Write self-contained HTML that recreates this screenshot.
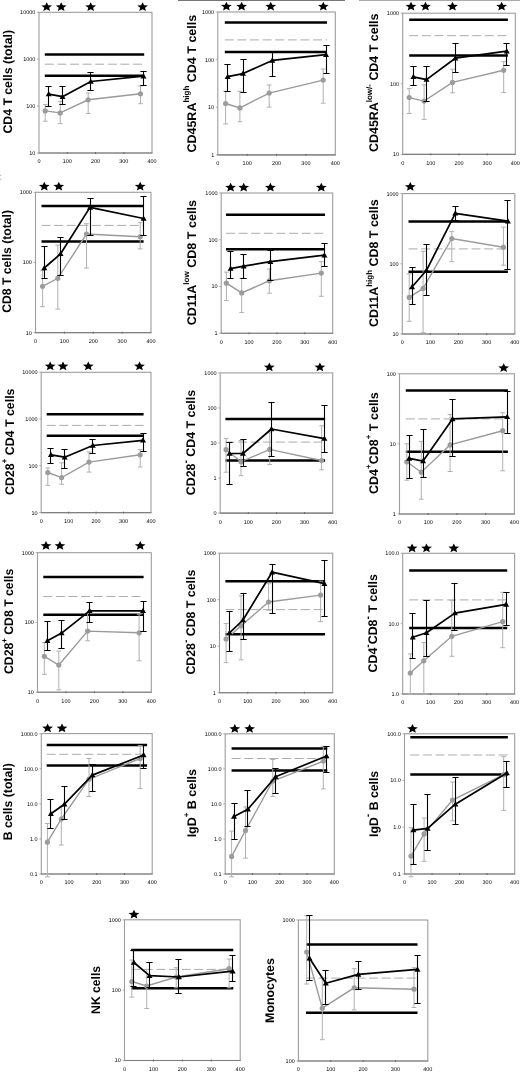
<!DOCTYPE html>
<html><head><meta charset="utf-8"><title>Figure</title>
<style>
html,body{margin:0;padding:0;background:#fff;}
body{width:520px;height:1073px;overflow:hidden;}
svg{display:block;will-change:transform;text-rendering:geometricPrecision;}
.yl{font-family:"Liberation Sans",sans-serif;font-size:5.5px;fill:#000;text-anchor:end;font-weight:normal;}
.xl{font-family:"Liberation Sans",sans-serif;font-size:5.5px;fill:#000;text-anchor:middle;font-weight:normal;}
.tt{font-family:"Liberation Sans",sans-serif;font-weight:bold;fill:#000;text-anchor:start;}
</style></head>
<body>
<svg width="520" height="1073" viewBox="0 0 520 1073">
<line x1="178" y1="0.5" x2="345" y2="0.5" stroke="#777" stroke-width="1.2"/>
<line x1="359" y1="0.5" x2="520" y2="0.5" stroke="#aaa" stroke-width="1.2"/>
<rect x="0" y="174.6" width="1.4" height="1.4" fill="#c4c4c4"/><rect x="0" y="178.6" width="1.4" height="1.4" fill="#c4c4c4"/>
<rect x="39" y="12.3" width="113" height="140.7" fill="none" stroke="#9d9d9d" stroke-width="1.1"/>
<line x1="38.5" y1="153" x2="152.5" y2="153" stroke="#808080" stroke-width="1.1"/>
<line x1="37" y1="12.3" x2="39" y2="12.3" stroke="#9d9d9d" stroke-width="0.8"/>
<text x="35.4" y="14.2" class="yl">10000</text>
<line x1="37" y1="59.2" x2="39" y2="59.2" stroke="#9d9d9d" stroke-width="0.8"/>
<text x="35.4" y="61.1" class="yl">1000</text>
<line x1="37" y1="106.1" x2="39" y2="106.1" stroke="#9d9d9d" stroke-width="0.8"/>
<text x="35.4" y="108" class="yl">100</text>
<line x1="37" y1="153" x2="39" y2="153" stroke="#9d9d9d" stroke-width="0.8"/>
<text x="35.4" y="154.9" class="yl">10</text>
<text x="39" y="163.4" class="xl">0</text>
<text x="67.25" y="163.4" class="xl">100</text>
<line x1="67.25" y1="152" x2="67.25" y2="154" stroke="#666" stroke-width="0.9"/>
<text x="95.5" y="163.4" class="xl">200</text>
<line x1="95.5" y1="152" x2="95.5" y2="154" stroke="#666" stroke-width="0.9"/>
<text x="123.75" y="163.4" class="xl">300</text>
<line x1="123.75" y1="152" x2="123.75" y2="154" stroke="#666" stroke-width="0.9"/>
<text x="152" y="163.4" class="xl">400</text>
<text transform="translate(11.5,133.52) rotate(-90) scale(0.9802,1)" class="tt" font-size="12.5">CD4&#160;T&#160;cells&#160;(total)</text>
<polygon points="46.7,2.24 48.21,5.32 52.09,5.6 49.15,7.78 50.03,11.03 46.7,9.3 43.37,11.03 44.25,7.78 41.31,5.6 45.19,5.32" fill="#000"/>
<polygon points="61.2,2.24 62.71,5.32 66.59,5.6 63.65,7.78 64.53,11.03 61.2,9.3 57.87,11.03 58.75,7.78 55.81,5.6 59.69,5.32" fill="#000"/>
<polygon points="90.7,2.24 92.21,5.32 96.09,5.6 93.15,7.78 94.03,11.03 90.7,9.3 87.37,11.03 88.25,7.78 85.31,5.6 89.19,5.32" fill="#000"/>
<polygon points="142.6,2.24 144.11,5.32 147.99,5.6 145.05,7.78 145.93,11.03 142.6,9.3 139.27,11.03 140.15,7.78 137.21,5.6 141.09,5.32" fill="#000"/>
<line x1="44.8" y1="54.6" x2="144.2" y2="54.6" stroke="#000" stroke-width="2.5"/>
<line x1="44.8" y1="75.7" x2="144.2" y2="75.7" stroke="#000" stroke-width="2.5"/>
<line x1="44.8" y1="64.2" x2="144.2" y2="64.2" stroke="#acacac" stroke-width="1.0" stroke-dasharray="9,3.6"/>
<path d="M45.2 104.6V121.2M42.8 104.6H47.6M42.8 121.2H47.6M60.2 101.3V123.6M57.8 101.3H62.6M57.8 123.6H62.6M88.2 93V113.5M85.8 93H90.6M85.8 113.5H90.6M140.5 86V103.7M138.1 86H142.9M138.1 103.7H142.9" stroke="#b0b0b0" stroke-width="1.0" fill="none"/>
<polyline points="45.2,110.9 60.2,112.9 88.2,99.8 140.5,93.8" stroke="#9a9a9a" stroke-width="1.4" fill="none"/>
<circle cx="45.2" cy="110.9" r="2.6" fill="#9c9c9c"/>
<circle cx="60.2" cy="112.9" r="2.6" fill="#9c9c9c"/>
<circle cx="88.2" cy="99.8" r="2.6" fill="#9c9c9c"/>
<circle cx="140.5" cy="93.8" r="2.6" fill="#9c9c9c"/>
<path d="M48.5 86.5V106.5M45.4 86.5H51.6M45.4 106.5H51.6M62.5 86.5V104.5M59.4 86.5H65.6M59.4 104.5H65.6M90.5 72.5V90.5M87.4 72.5H93.6M87.4 90.5H93.6M143.5 71.5V85.5M140.4 71.5H146.6M140.4 85.5H146.6" stroke="#000" stroke-width="1.1" fill="none"/>
<polyline points="48.7,94.1 62.5,96.7 90.8,81.5 143.5,76.2" stroke="#000" stroke-width="1.7" fill="none" stroke-linejoin="round"/>
<polygon points="48.7,91.03 45.7,96.33 51.7,96.33" fill="#000"/>
<polygon points="62.5,93.63 59.5,98.93 65.5,98.93" fill="#000"/>
<polygon points="90.8,78.43 87.8,83.73 93.8,83.73" fill="#000"/>
<polygon points="143.5,73.13 140.5,78.43 146.5,78.43" fill="#000"/>
<rect x="217.8" y="12" width="117.5" height="142.9" fill="none" stroke="#9d9d9d" stroke-width="1.1"/>
<line x1="217.3" y1="154.9" x2="335.8" y2="154.9" stroke="#808080" stroke-width="1.1"/>
<line x1="215.8" y1="12" x2="217.8" y2="12" stroke="#9d9d9d" stroke-width="0.8"/>
<text x="214.2" y="13.9" class="yl">1000</text>
<line x1="215.8" y1="59.63" x2="217.8" y2="59.63" stroke="#9d9d9d" stroke-width="0.8"/>
<text x="214.2" y="61.53" class="yl">100</text>
<line x1="215.8" y1="107.27" x2="217.8" y2="107.27" stroke="#9d9d9d" stroke-width="0.8"/>
<text x="214.2" y="109.17" class="yl">10</text>
<line x1="215.8" y1="154.9" x2="217.8" y2="154.9" stroke="#9d9d9d" stroke-width="0.8"/>
<text x="214.2" y="156.8" class="yl">1</text>
<text x="217.8" y="165.3" class="xl">0</text>
<text x="247.18" y="165.3" class="xl">100</text>
<line x1="247.18" y1="153.9" x2="247.18" y2="155.9" stroke="#666" stroke-width="0.9"/>
<text x="276.55" y="165.3" class="xl">200</text>
<line x1="276.55" y1="153.9" x2="276.55" y2="155.9" stroke="#666" stroke-width="0.9"/>
<text x="305.93" y="165.3" class="xl">300</text>
<line x1="305.93" y1="153.9" x2="305.93" y2="155.9" stroke="#666" stroke-width="0.9"/>
<text x="335.3" y="165.3" class="xl">400</text>
<text transform="translate(195.9,152.6) rotate(-90) scale(1.0001,1)" class="tt" font-size="12.5">CD45RA<tspan dy="-6.5" font-size="8">high</tspan><tspan dy="6.5">&#160;CD4&#160;T&#160;cells</tspan></text>
<polygon points="226.4,1.64 227.91,4.72 231.79,5 228.85,7.18 229.73,10.43 226.4,8.71 223.07,10.43 223.95,7.18 221.01,5 224.89,4.72" fill="#000"/>
<polygon points="241.6,1.64 243.11,4.72 246.99,5 244.05,7.18 244.93,10.43 241.6,8.71 238.27,10.43 239.15,7.18 236.21,5 240.09,4.72" fill="#000"/>
<polygon points="270.7,1.64 272.21,4.72 276.09,5 273.15,7.18 274.03,10.43 270.7,8.71 267.37,10.43 268.25,7.18 265.31,5 269.19,4.72" fill="#000"/>
<polygon points="323.3,1.64 324.81,4.72 328.69,5 325.75,7.18 326.63,10.43 323.3,8.71 319.97,10.43 320.85,7.18 317.91,5 321.79,4.72" fill="#000"/>
<line x1="224.8" y1="22.5" x2="327" y2="22.5" stroke="#000" stroke-width="2.5"/>
<line x1="224.8" y1="52.1" x2="327" y2="52.1" stroke="#000" stroke-width="2.5"/>
<line x1="224.8" y1="39.9" x2="327" y2="39.9" stroke="#acacac" stroke-width="1.0" stroke-dasharray="9,3.6"/>
<path d="M225.6 91.3V123.9M223.2 91.3H228M223.2 123.9H228M239.9 91.3V121.8M237.5 91.3H242.3M237.5 121.8H242.3M269.2 85V107.1M266.8 85H271.6M266.8 107.1H271.6M323.2 69V103.2M320.8 69H325.6M320.8 103.2H325.6" stroke="#b0b0b0" stroke-width="1.0" fill="none"/>
<polyline points="225.6,103.5 239.9,107.9 269.2,93.1 323.2,80.1" stroke="#9a9a9a" stroke-width="1.4" fill="none"/>
<circle cx="225.6" cy="103.5" r="2.6" fill="#9c9c9c"/>
<circle cx="239.9" cy="107.9" r="2.6" fill="#9c9c9c"/>
<circle cx="269.2" cy="93.1" r="2.6" fill="#9c9c9c"/>
<circle cx="323.2" cy="80.1" r="2.6" fill="#9c9c9c"/>
<path d="M227.5 64.5V91.5M224.4 64.5H230.6M224.4 91.5H230.6M243.5 59.5V92.5M240.4 59.5H246.6M240.4 92.5H246.6M272.5 51.5V76.5M269.4 51.5H275.6M269.4 76.5H275.6M326.5 45.5V73.5M323.4 45.5H329.6M323.4 73.5H329.6" stroke="#000" stroke-width="1.1" fill="none"/>
<polyline points="227.7,76.7 243,73.6 272.3,60.4 326,54.7" stroke="#000" stroke-width="1.7" fill="none" stroke-linejoin="round"/>
<polygon points="227.7,73.63 224.7,78.93 230.7,78.93" fill="#000"/>
<polygon points="243,70.53 240,75.83 246,75.83" fill="#000"/>
<polygon points="272.3,57.33 269.3,62.63 275.3,62.63" fill="#000"/>
<polygon points="326,51.63 323,56.93 329,56.93" fill="#000"/>
<rect x="402.7" y="13.2" width="112.6" height="141.2" fill="none" stroke="#9d9d9d" stroke-width="1.1"/>
<line x1="402.2" y1="154.4" x2="515.8" y2="154.4" stroke="#808080" stroke-width="1.1"/>
<line x1="400.7" y1="13.2" x2="402.7" y2="13.2" stroke="#9d9d9d" stroke-width="0.8"/>
<text x="399.1" y="15.1" class="yl">1000</text>
<line x1="400.7" y1="83.8" x2="402.7" y2="83.8" stroke="#9d9d9d" stroke-width="0.8"/>
<text x="399.1" y="85.7" class="yl">100</text>
<line x1="400.7" y1="154.4" x2="402.7" y2="154.4" stroke="#9d9d9d" stroke-width="0.8"/>
<text x="399.1" y="156.3" class="yl">10</text>
<text x="402.7" y="164.8" class="xl">0</text>
<text x="430.85" y="164.8" class="xl">100</text>
<line x1="430.85" y1="153.4" x2="430.85" y2="155.4" stroke="#666" stroke-width="0.9"/>
<text x="459" y="164.8" class="xl">200</text>
<line x1="459" y1="153.4" x2="459" y2="155.4" stroke="#666" stroke-width="0.9"/>
<text x="487.15" y="164.8" class="xl">300</text>
<line x1="487.15" y1="153.4" x2="487.15" y2="155.4" stroke="#666" stroke-width="0.9"/>
<text x="515.3" y="164.8" class="xl">400</text>
<text transform="translate(378.4,152.01) rotate(-90) scale(0.9956,1)" class="tt" font-size="12.5">CD45RA<tspan dy="-6.5" font-size="8">low/-</tspan><tspan dy="6.5">&#160;CD4&#160;T&#160;cells</tspan></text>
<polygon points="411,1.64 412.51,4.72 416.39,5 413.45,7.18 414.33,10.43 411,8.71 407.67,10.43 408.55,7.18 405.61,5 409.49,4.72" fill="#000"/>
<polygon points="425.5,1.64 427.01,4.72 430.89,5 427.95,7.18 428.83,10.43 425.5,8.71 422.17,10.43 423.05,7.18 420.11,5 423.99,4.72" fill="#000"/>
<polygon points="452.5,1.64 454.01,4.72 457.89,5 454.95,7.18 455.83,10.43 452.5,8.71 449.17,10.43 450.05,7.18 447.11,5 450.99,4.72" fill="#000"/>
<polygon points="501.6,1.64 503.11,4.72 506.99,5 504.05,7.18 504.93,10.43 501.6,8.71 498.27,10.43 499.15,7.18 496.21,5 500.09,4.72" fill="#000"/>
<line x1="409.2" y1="19.7" x2="507.9" y2="19.7" stroke="#000" stroke-width="2.5"/>
<line x1="409.2" y1="55.4" x2="507.9" y2="55.4" stroke="#000" stroke-width="2.5"/>
<line x1="409.2" y1="35.7" x2="507.9" y2="35.7" stroke="#acacac" stroke-width="1.0" stroke-dasharray="9,3.6"/>
<path d="M409.2 88.6V113.5M406.8 88.6H411.6M406.8 113.5H411.6M424.1 84.8V119.4M421.7 84.8H426.5M421.7 119.4H426.5M452.5 69.2V92.8M450.1 69.2H454.9M450.1 92.8H454.9M503.7 61.6V92.4M501.3 61.6H506.1M501.3 92.4H506.1" stroke="#b0b0b0" stroke-width="1.0" fill="none"/>
<polyline points="409.2,97.6 424.1,101.1 452.5,82.4 503.7,70.3" stroke="#9a9a9a" stroke-width="1.4" fill="none"/>
<circle cx="409.2" cy="97.6" r="2.6" fill="#9c9c9c"/>
<circle cx="424.1" cy="101.1" r="2.6" fill="#9c9c9c"/>
<circle cx="452.5" cy="82.4" r="2.6" fill="#9c9c9c"/>
<circle cx="503.7" cy="70.3" r="2.6" fill="#9c9c9c"/>
<path d="M413.5 66.5V85.5M410.4 66.5H416.6M410.4 85.5H416.6M426.5 66.5V101.5M423.4 66.5H429.6M423.4 101.5H429.6M455.5 43.5V72.5M452.4 43.5H458.6M452.4 72.5H458.6M506.5 43.5V65.5M503.4 43.5H509.6M503.4 65.5H509.6" stroke="#000" stroke-width="1.1" fill="none"/>
<polyline points="413.4,76.8 426.5,79.6 455.3,58.2 506.8,51.2" stroke="#000" stroke-width="1.7" fill="none" stroke-linejoin="round"/>
<polygon points="413.4,73.73 410.4,79.03 416.4,79.03" fill="#000"/>
<polygon points="426.5,76.53 423.5,81.83 429.5,81.83" fill="#000"/>
<polygon points="455.3,55.13 452.3,60.43 458.3,60.43" fill="#000"/>
<polygon points="506.8,48.13 503.8,53.43 509.8,53.43" fill="#000"/>
<rect x="35.5" y="192.3" width="115.5" height="140.3" fill="none" stroke="#9d9d9d" stroke-width="1.1"/>
<line x1="35" y1="332.6" x2="151.5" y2="332.6" stroke="#808080" stroke-width="1.1"/>
<line x1="33.5" y1="192.3" x2="35.5" y2="192.3" stroke="#9d9d9d" stroke-width="0.8"/>
<text x="31.9" y="194.2" class="yl">1000</text>
<line x1="33.5" y1="262.45" x2="35.5" y2="262.45" stroke="#9d9d9d" stroke-width="0.8"/>
<text x="31.9" y="264.35" class="yl">100</text>
<line x1="33.5" y1="332.6" x2="35.5" y2="332.6" stroke="#9d9d9d" stroke-width="0.8"/>
<text x="31.9" y="334.5" class="yl">10</text>
<text x="35.5" y="343" class="xl">0</text>
<text x="64.38" y="343" class="xl">100</text>
<line x1="64.38" y1="331.6" x2="64.38" y2="333.6" stroke="#666" stroke-width="0.9"/>
<text x="93.25" y="343" class="xl">200</text>
<line x1="93.25" y1="331.6" x2="93.25" y2="333.6" stroke="#666" stroke-width="0.9"/>
<text x="122.12" y="343" class="xl">300</text>
<line x1="122.12" y1="331.6" x2="122.12" y2="333.6" stroke="#666" stroke-width="0.9"/>
<text x="151" y="343" class="xl">400</text>
<text transform="translate(11.3,312.84) rotate(-90) scale(0.9744,1)" class="tt" font-size="12.5">CD8&#160;T&#160;cells&#160;(total)</text>
<polygon points="44.3,181.74 45.81,184.82 49.69,185.1 46.75,187.28 47.63,190.53 44.3,188.81 40.97,190.53 41.85,187.28 38.91,185.1 42.79,184.82" fill="#000"/>
<polygon points="58.8,181.74 60.31,184.82 64.19,185.1 61.25,187.28 62.13,190.53 58.8,188.81 55.47,190.53 56.35,187.28 53.41,185.1 57.29,184.82" fill="#000"/>
<polygon points="140.2,181.74 141.71,184.82 145.59,185.1 142.65,187.28 143.53,190.53 140.2,188.81 136.87,190.53 137.75,187.28 134.81,185.1 138.69,184.82" fill="#000"/>
<line x1="41.5" y1="206" x2="143.6" y2="206" stroke="#000" stroke-width="2.5"/>
<line x1="41.5" y1="241.6" x2="143.6" y2="241.6" stroke="#000" stroke-width="2.5"/>
<line x1="41.5" y1="225.4" x2="143.6" y2="225.4" stroke="#acacac" stroke-width="1.0" stroke-dasharray="9,3.6"/>
<path d="M42.6 270.4V306.7M40.2 270.4H45M40.2 306.7H45M57.8 245.1V309.1M55.4 245.1H60.2M55.4 309.1H60.2M86.5 223.7V268M84.1 223.7H88.9M84.1 268H88.9M140.2 222.6V248.9M137.8 222.6H142.6M137.8 248.9H142.6" stroke="#b0b0b0" stroke-width="1.0" fill="none"/>
<polyline points="42.6,286.3 57.8,278.3 86.5,234 140.2,236.8" stroke="#9a9a9a" stroke-width="1.4" fill="none"/>
<circle cx="42.6" cy="286.3" r="2.6" fill="#9c9c9c"/>
<circle cx="57.8" cy="278.3" r="2.6" fill="#9c9c9c"/>
<circle cx="86.5" cy="234" r="2.6" fill="#9c9c9c"/>
<circle cx="140.2" cy="236.8" r="2.6" fill="#9c9c9c"/>
<path d="M44.5 246.5V278.5M41.4 246.5H47.6M41.4 278.5H47.6M60.5 237.5V275.5M57.4 237.5H63.6M57.4 275.5H63.6M90.5 198.5V235.5M87.4 198.5H93.6M87.4 235.5H93.6M143.5 196.5V235.5M140.4 196.5H146.6M140.4 235.5H146.6" stroke="#000" stroke-width="1.1" fill="none"/>
<polyline points="44.3,268 60.6,253.8 90,207.4 143.6,218.5" stroke="#000" stroke-width="1.7" fill="none" stroke-linejoin="round"/>
<polygon points="44.3,264.93 41.3,270.23 47.3,270.23" fill="#000"/>
<polygon points="60.6,250.73 57.6,256.03 63.6,256.03" fill="#000"/>
<polygon points="90,204.33 87,209.63 93,209.63" fill="#000"/>
<polygon points="143.6,215.43 140.6,220.73 146.6,220.73" fill="#000"/>
<rect x="221.2" y="193" width="111.5" height="140.3" fill="none" stroke="#9d9d9d" stroke-width="1.1"/>
<line x1="220.7" y1="333.3" x2="333.2" y2="333.3" stroke="#808080" stroke-width="1.1"/>
<line x1="219.2" y1="193" x2="221.2" y2="193" stroke="#9d9d9d" stroke-width="0.8"/>
<text x="217.6" y="194.9" class="yl">1000</text>
<line x1="219.2" y1="239.77" x2="221.2" y2="239.77" stroke="#9d9d9d" stroke-width="0.8"/>
<text x="217.6" y="241.67" class="yl">100</text>
<line x1="219.2" y1="286.53" x2="221.2" y2="286.53" stroke="#9d9d9d" stroke-width="0.8"/>
<text x="217.6" y="288.43" class="yl">10</text>
<line x1="219.2" y1="333.3" x2="221.2" y2="333.3" stroke="#9d9d9d" stroke-width="0.8"/>
<text x="217.6" y="335.2" class="yl">1</text>
<text x="221.2" y="343.7" class="xl">0</text>
<text x="249.07" y="343.7" class="xl">100</text>
<line x1="249.07" y1="332.3" x2="249.07" y2="334.3" stroke="#666" stroke-width="0.9"/>
<text x="276.95" y="343.7" class="xl">200</text>
<line x1="276.95" y1="332.3" x2="276.95" y2="334.3" stroke="#666" stroke-width="0.9"/>
<text x="304.82" y="343.7" class="xl">300</text>
<line x1="304.82" y1="332.3" x2="304.82" y2="334.3" stroke="#666" stroke-width="0.9"/>
<text x="332.7" y="343.7" class="xl">400</text>
<text transform="translate(195.9,325.28) rotate(-90) scale(1.0054,1)" class="tt" font-size="12.5">CD11A<tspan dy="-6.5" font-size="8">low</tspan><tspan dy="6.5">&#160;CD8&#160;T&#160;cells</tspan></text>
<polygon points="230.6,182.74 232.11,185.82 235.99,186.1 233.05,188.28 233.93,191.53 230.6,189.81 227.27,191.53 228.15,188.28 225.21,186.1 229.09,185.82" fill="#000"/>
<polygon points="243.7,182.74 245.21,185.82 249.09,186.1 246.15,188.28 247.03,191.53 243.7,189.81 240.37,191.53 241.25,188.28 238.31,186.1 242.19,185.82" fill="#000"/>
<polygon points="270.4,182.74 271.91,185.82 275.79,186.1 272.85,188.28 273.73,191.53 270.4,189.81 267.07,191.53 267.95,188.28 265.01,186.1 268.89,185.82" fill="#000"/>
<polygon points="321.3,182.74 322.81,185.82 326.69,186.1 323.75,188.28 324.63,191.53 321.3,189.81 317.97,191.53 318.85,188.28 315.91,186.1 319.79,185.82" fill="#000"/>
<line x1="226" y1="214.7" x2="325" y2="214.7" stroke="#000" stroke-width="2.5"/>
<line x1="226" y1="249.3" x2="325" y2="249.3" stroke="#000" stroke-width="2.5"/>
<line x1="226" y1="233.3" x2="325" y2="233.3" stroke="#acacac" stroke-width="1.0" stroke-dasharray="9,3.6"/>
<path d="M226.4 272.1V300.5M224 272.1H228.8M224 300.5H228.8M241.7 278.3V312.6M239.3 278.3H244.1M239.3 312.6H244.1M269.3 269V293.2M266.9 269H271.7M266.9 293.2H271.7M321.3 261.7V296.3M318.9 261.7H323.7M318.9 296.3H323.7" stroke="#b0b0b0" stroke-width="1.0" fill="none"/>
<polyline points="226.4,283.2 241.7,292.9 269.3,280.8 321.3,273.1" stroke="#9a9a9a" stroke-width="1.4" fill="none"/>
<circle cx="226.4" cy="283.2" r="2.6" fill="#9c9c9c"/>
<circle cx="241.7" cy="292.9" r="2.6" fill="#9c9c9c"/>
<circle cx="269.3" cy="280.8" r="2.6" fill="#9c9c9c"/>
<circle cx="321.3" cy="273.1" r="2.6" fill="#9c9c9c"/>
<path d="M230.5 251.5V278.5M227.4 251.5H233.6M227.4 278.5H233.6M243.5 254.5V278.5M240.4 254.5H246.6M240.4 278.5H246.6M270.5 250.5V280.5M267.4 250.5H273.6M267.4 280.5H273.6M324.5 243.5V266.5M321.4 243.5H327.6M321.4 266.5H327.6" stroke="#000" stroke-width="1.1" fill="none"/>
<polyline points="230.6,268.6 243.7,266.2 270.4,261.7 324.4,255.2" stroke="#000" stroke-width="1.7" fill="none" stroke-linejoin="round"/>
<polygon points="230.6,265.53 227.6,270.83 233.6,270.83" fill="#000"/>
<polygon points="243.7,263.13 240.7,268.43 246.7,268.43" fill="#000"/>
<polygon points="270.4,258.63 267.4,263.93 273.4,263.93" fill="#000"/>
<polygon points="324.4,252.13 321.4,257.43 327.4,257.43" fill="#000"/>
<rect x="402.3" y="193.6" width="112.5" height="140.4" fill="none" stroke="#9d9d9d" stroke-width="1.1"/>
<line x1="401.8" y1="334" x2="515.3" y2="334" stroke="#808080" stroke-width="1.1"/>
<line x1="400.3" y1="193.6" x2="402.3" y2="193.6" stroke="#9d9d9d" stroke-width="0.8"/>
<text x="398.7" y="195.5" class="yl">1000</text>
<line x1="400.3" y1="263.8" x2="402.3" y2="263.8" stroke="#9d9d9d" stroke-width="0.8"/>
<text x="398.7" y="265.7" class="yl">100</text>
<line x1="400.3" y1="334" x2="402.3" y2="334" stroke="#9d9d9d" stroke-width="0.8"/>
<text x="398.7" y="335.9" class="yl">10</text>
<text x="402.3" y="344.4" class="xl">0</text>
<text x="430.43" y="344.4" class="xl">100</text>
<line x1="430.43" y1="333" x2="430.43" y2="335" stroke="#666" stroke-width="0.9"/>
<text x="458.55" y="344.4" class="xl">200</text>
<line x1="458.55" y1="333" x2="458.55" y2="335" stroke="#666" stroke-width="0.9"/>
<text x="486.67" y="344.4" class="xl">300</text>
<line x1="486.67" y1="333" x2="486.67" y2="335" stroke="#666" stroke-width="0.9"/>
<text x="514.8" y="344.4" class="xl">400</text>
<text transform="translate(378.2,326.9) rotate(-90) scale(0.9958,1)" class="tt" font-size="12.5">CD11A<tspan dy="-6.5" font-size="8">high</tspan><tspan dy="6.5">&#160;CD8&#160;T&#160;cells</tspan></text>
<polygon points="410.3,182.04 411.81,185.12 415.69,185.4 412.75,187.58 413.63,190.83 410.3,189.11 406.97,190.83 407.85,187.58 404.91,185.4 408.79,185.12" fill="#000"/>
<line x1="408.5" y1="221.6" x2="507.9" y2="221.6" stroke="#000" stroke-width="2.5"/>
<line x1="408.5" y1="271.8" x2="507.9" y2="271.8" stroke="#000" stroke-width="2.5"/>
<line x1="408.5" y1="248.9" x2="507.9" y2="248.9" stroke="#acacac" stroke-width="1.0" stroke-dasharray="9,3.6"/>
<path d="M409.2 273.8V321.3M406.8 273.8H411.6M406.8 321.3H411.6M423.1 251.3V332.7M420.7 251.3H425.5M420.7 332.7H425.5M451.8 231.6V261.7M449.4 231.6H454.2M449.4 261.7H454.2M503.4 227.1V265.2M501 227.1H505.8M501 265.2H505.8" stroke="#b0b0b0" stroke-width="1.0" fill="none"/>
<polyline points="409.2,297.4 423.1,288.4 451.8,238.5 503.4,247.2" stroke="#9a9a9a" stroke-width="1.4" fill="none"/>
<circle cx="409.2" cy="297.4" r="2.6" fill="#9c9c9c"/>
<circle cx="423.1" cy="288.4" r="2.6" fill="#9c9c9c"/>
<circle cx="451.8" cy="238.5" r="2.6" fill="#9c9c9c"/>
<circle cx="503.4" cy="247.2" r="2.6" fill="#9c9c9c"/>
<path d="M412.5 267.5V304.5M409.4 267.5H415.6M409.4 304.5H415.6M426.5 244.5V295.5M423.4 244.5H429.6M423.4 295.5H429.6M455.5 206.5V220.5M452.4 206.5H458.6M452.4 220.5H458.6M507.5 200.5V269.5M504.4 200.5H510.6M504.4 269.5H510.6" stroke="#000" stroke-width="1.1" fill="none"/>
<polyline points="412,287 426.5,270.3 455.3,213.3 507.9,221.2" stroke="#000" stroke-width="1.7" fill="none" stroke-linejoin="round"/>
<polygon points="412,283.93 409,289.23 415,289.23" fill="#000"/>
<polygon points="426.5,267.23 423.5,272.53 429.5,272.53" fill="#000"/>
<polygon points="455.3,210.23 452.3,215.53 458.3,215.53" fill="#000"/>
<polygon points="507.9,218.13 504.9,223.43 510.9,223.43" fill="#000"/>
<rect x="41.2" y="372.3" width="109.8" height="140.3" fill="none" stroke="#9d9d9d" stroke-width="1.1"/>
<line x1="40.7" y1="512.6" x2="151.5" y2="512.6" stroke="#808080" stroke-width="1.1"/>
<line x1="39.2" y1="372.3" x2="41.2" y2="372.3" stroke="#9d9d9d" stroke-width="0.8"/>
<text x="37.6" y="374.2" class="yl">10000</text>
<line x1="39.2" y1="419.07" x2="41.2" y2="419.07" stroke="#9d9d9d" stroke-width="0.8"/>
<text x="37.6" y="420.97" class="yl">1000</text>
<line x1="39.2" y1="465.83" x2="41.2" y2="465.83" stroke="#9d9d9d" stroke-width="0.8"/>
<text x="37.6" y="467.73" class="yl">100</text>
<line x1="39.2" y1="512.6" x2="41.2" y2="512.6" stroke="#9d9d9d" stroke-width="0.8"/>
<text x="37.6" y="514.5" class="yl">10</text>
<text x="41.2" y="523" class="xl">0</text>
<text x="68.65" y="523" class="xl">100</text>
<line x1="68.65" y1="511.6" x2="68.65" y2="513.6" stroke="#666" stroke-width="0.9"/>
<text x="96.1" y="523" class="xl">200</text>
<line x1="96.1" y1="511.6" x2="96.1" y2="513.6" stroke="#666" stroke-width="0.9"/>
<text x="123.55" y="523" class="xl">300</text>
<line x1="123.55" y1="511.6" x2="123.55" y2="513.6" stroke="#666" stroke-width="0.9"/>
<text x="151" y="523" class="xl">400</text>
<text transform="translate(13.8,495.02) rotate(-90) scale(0.9904,1)" class="tt" font-size="12.5">CD28<tspan dy="-6.5" font-size="8">+</tspan><tspan dy="6.5">&#160;CD4&#160;T&#160;cells</tspan></text>
<polygon points="50.2,361.44 51.71,364.52 55.59,364.8 52.65,366.98 53.53,370.23 50.2,368.5 46.87,370.23 47.75,366.98 44.81,364.8 48.69,364.52" fill="#000"/>
<polygon points="63,361.44 64.51,364.52 68.39,364.8 65.45,366.98 66.33,370.23 63,368.5 59.67,370.23 60.55,366.98 57.61,364.8 61.49,364.52" fill="#000"/>
<polygon points="88.3,361.44 89.81,364.52 93.69,364.8 90.75,366.98 91.63,370.23 88.3,368.5 84.97,370.23 85.85,366.98 82.91,364.8 86.79,364.52" fill="#000"/>
<polygon points="139.5,361.44 141.01,364.52 144.89,364.8 141.95,366.98 142.83,370.23 139.5,368.5 136.17,370.23 137.05,366.98 134.11,364.8 137.99,364.52" fill="#000"/>
<line x1="46.7" y1="414.3" x2="143.6" y2="414.3" stroke="#000" stroke-width="2.5"/>
<line x1="46.7" y1="435.8" x2="143.6" y2="435.8" stroke="#000" stroke-width="2.5"/>
<line x1="46.7" y1="425.4" x2="143.6" y2="425.4" stroke="#acacac" stroke-width="1.0" stroke-dasharray="9,3.6"/>
<path d="M47.8 468V485.3M45.4 468H50.2M45.4 485.3H50.2M61.6 462.8V484.2M59.2 462.8H64M59.2 484.2H64M89 452V472.1M86.6 452H91.4M86.6 472.1H91.4M140.2 449.6V466.9M137.8 449.6H142.6M137.8 466.9H142.6" stroke="#b0b0b0" stroke-width="1.0" fill="none"/>
<polyline points="47.8,472.5 61.6,477.6 89,462.1 140.2,454.8" stroke="#9a9a9a" stroke-width="1.4" fill="none"/>
<circle cx="47.8" cy="472.5" r="2.6" fill="#9c9c9c"/>
<circle cx="61.6" cy="477.6" r="2.6" fill="#9c9c9c"/>
<circle cx="89" cy="462.1" r="2.6" fill="#9c9c9c"/>
<circle cx="140.2" cy="454.8" r="2.6" fill="#9c9c9c"/>
<path d="M50.5 448.5V463.5M47.4 448.5H53.6M47.4 463.5H53.6M64.5 449.5V468.5M61.4 449.5H67.6M61.4 468.5H67.6M92.5 439.5V453.5M89.4 439.5H95.6M89.4 453.5H95.6M143.5 433.5V451.5M140.4 433.5H146.6M140.4 451.5H146.6" stroke="#000" stroke-width="1.1" fill="none"/>
<polyline points="50.9,454.8 64.7,457.2 92.8,445.5 143,440.3" stroke="#000" stroke-width="1.7" fill="none" stroke-linejoin="round"/>
<polygon points="50.9,451.73 47.9,457.03 53.9,457.03" fill="#000"/>
<polygon points="64.7,454.13 61.7,459.43 67.7,459.43" fill="#000"/>
<polygon points="92.8,442.43 89.8,447.73 95.8,447.73" fill="#000"/>
<polygon points="143,437.23 140,442.53 146,442.53" fill="#000"/>
<rect x="220.2" y="372.9" width="112.5" height="140.2" fill="none" stroke="#9d9d9d" stroke-width="1.1"/>
<line x1="219.7" y1="513.1" x2="333.2" y2="513.1" stroke="#808080" stroke-width="1.1"/>
<line x1="218.2" y1="372.9" x2="220.2" y2="372.9" stroke="#9d9d9d" stroke-width="0.8"/>
<text x="216.6" y="374.8" class="yl">1000</text>
<line x1="218.2" y1="407.95" x2="220.2" y2="407.95" stroke="#9d9d9d" stroke-width="0.8"/>
<text x="216.6" y="409.85" class="yl">100</text>
<line x1="218.2" y1="443" x2="220.2" y2="443" stroke="#9d9d9d" stroke-width="0.8"/>
<text x="216.6" y="444.9" class="yl">10</text>
<line x1="218.2" y1="478.05" x2="220.2" y2="478.05" stroke="#9d9d9d" stroke-width="0.8"/>
<text x="216.6" y="479.95" class="yl">1</text>
<line x1="218.2" y1="513.1" x2="220.2" y2="513.1" stroke="#9d9d9d" stroke-width="0.8"/>
<text x="216.6" y="515" class="yl">0</text>
<text x="220.2" y="523.5" class="xl">0</text>
<text x="248.32" y="523.5" class="xl">100</text>
<line x1="248.32" y1="512.1" x2="248.32" y2="514.1" stroke="#666" stroke-width="0.9"/>
<text x="276.45" y="523.5" class="xl">200</text>
<line x1="276.45" y1="512.1" x2="276.45" y2="514.1" stroke="#666" stroke-width="0.9"/>
<text x="304.57" y="523.5" class="xl">300</text>
<line x1="304.57" y1="512.1" x2="304.57" y2="514.1" stroke="#666" stroke-width="0.9"/>
<text x="332.7" y="523.5" class="xl">400</text>
<text transform="translate(195.3,495.16) rotate(-90) scale(0.9899,1)" class="tt" font-size="12.5">CD28<tspan dy="-6.5" font-size="10.4">-</tspan><tspan dy="6.5">&#160;CD4&#160;T&#160;cells</tspan></text>
<polygon points="269.3,362.44 270.81,365.52 274.69,365.8 271.75,367.98 272.63,371.23 269.3,369.5 265.97,371.23 266.85,367.98 263.91,365.8 267.79,365.52" fill="#000"/>
<polygon points="319.9,362.44 321.41,365.52 325.29,365.8 322.35,367.98 323.23,371.23 319.9,369.5 316.57,371.23 317.45,367.98 314.51,365.8 318.39,365.52" fill="#000"/>
<line x1="225.4" y1="418.9" x2="325.1" y2="418.9" stroke="#000" stroke-width="2.5"/>
<line x1="225.4" y1="460.5" x2="325.1" y2="460.5" stroke="#000" stroke-width="2.5"/>
<line x1="225.4" y1="442.1" x2="325.1" y2="442.1" stroke="#acacac" stroke-width="1.0" stroke-dasharray="9,3.6"/>
<path d="M226.1 438.6V472.2M223.7 438.6H228.5M223.7 472.2H228.5M241 440.4V475.7M238.6 440.4H243.4M238.6 475.7H243.4M269.7 432.8V464.6M267.3 432.8H272.1M267.3 464.6H272.1M321.6 425.8V469.8M319.2 425.8H324M319.2 469.8H324" stroke="#b0b0b0" stroke-width="1.0" fill="none"/>
<polyline points="226.1,449.7 241,461.8 269.7,449.4 321.6,460.5" stroke="#9a9a9a" stroke-width="1.4" fill="none"/>
<circle cx="226.1" cy="449.7" r="2.6" fill="#9c9c9c"/>
<circle cx="241" cy="461.8" r="2.6" fill="#9c9c9c"/>
<circle cx="269.7" cy="449.4" r="2.6" fill="#9c9c9c"/>
<circle cx="321.6" cy="460.5" r="2.6" fill="#9c9c9c"/>
<path d="M229.5 442.5V484.5M226.4 442.5H232.6M226.4 484.5H232.6M243.5 439.5V466.5M240.4 439.5H246.6M240.4 466.5H246.6M271.5 402.5V456.5M268.4 402.5H274.6M268.4 456.5H274.6M324.5 405.5V452.5M321.4 405.5H327.6M321.4 452.5H327.6" stroke="#000" stroke-width="1.1" fill="none"/>
<polyline points="229.5,453.5 243,453.5 271.4,429 324.4,438.6" stroke="#000" stroke-width="1.7" fill="none" stroke-linejoin="round"/>
<polygon points="229.5,450.43 226.5,455.73 232.5,455.73" fill="#000"/>
<polygon points="243,450.43 240,455.73 246,455.73" fill="#000"/>
<polygon points="271.4,425.93 268.4,431.23 274.4,431.23" fill="#000"/>
<polygon points="324.4,435.53 321.4,440.83 327.4,440.83" fill="#000"/>
<rect x="399.5" y="373.8" width="114.9" height="140.2" fill="none" stroke="#9d9d9d" stroke-width="1.1"/>
<line x1="399" y1="514" x2="514.9" y2="514" stroke="#808080" stroke-width="1.1"/>
<line x1="397.5" y1="373.8" x2="399.5" y2="373.8" stroke="#9d9d9d" stroke-width="0.8"/>
<text x="395.9" y="375.7" class="yl">100</text>
<line x1="397.5" y1="443.9" x2="399.5" y2="443.9" stroke="#9d9d9d" stroke-width="0.8"/>
<text x="395.9" y="445.8" class="yl">10</text>
<line x1="397.5" y1="514" x2="399.5" y2="514" stroke="#9d9d9d" stroke-width="0.8"/>
<text x="395.9" y="515.9" class="yl">1</text>
<text x="399.5" y="524.4" class="xl">0</text>
<text x="428.23" y="524.4" class="xl">100</text>
<line x1="428.23" y1="513" x2="428.23" y2="515" stroke="#666" stroke-width="0.9"/>
<text x="456.95" y="524.4" class="xl">200</text>
<line x1="456.95" y1="513" x2="456.95" y2="515" stroke="#666" stroke-width="0.9"/>
<text x="485.67" y="524.4" class="xl">300</text>
<line x1="485.67" y1="513" x2="485.67" y2="515" stroke="#666" stroke-width="0.9"/>
<text x="514.4" y="524.4" class="xl">400</text>
<text transform="translate(377.9,494.03) rotate(-90) scale(1.0007,1)" class="tt" font-size="12.5">CD4<tspan dy="-6.5" font-size="8">+</tspan><tspan dy="6.5">CD8</tspan><tspan dy="-6.5" font-size="8">+</tspan><tspan dy="6.5">&#160;T&#160;cells</tspan></text>
<polygon points="503.7,363.14 505.21,366.22 509.09,366.5 506.15,368.68 507.03,371.93 503.7,370.2 500.37,371.93 501.25,368.68 498.31,366.5 502.19,366.22" fill="#000"/>
<line x1="405.8" y1="390.5" x2="507.9" y2="390.5" stroke="#000" stroke-width="2.5"/>
<line x1="405.8" y1="451.8" x2="507.9" y2="451.8" stroke="#000" stroke-width="2.5"/>
<line x1="405.8" y1="418.9" x2="507.9" y2="418.9" stroke="#acacac" stroke-width="1.0" stroke-dasharray="9,3.6"/>
<path d="M406.8 443.8V480.2M404.4 443.8H409.2M404.4 480.2H409.2M421.3 441.4V499.2M418.9 441.4H423.7M418.9 499.2H423.7M450.1 414.4V471.5M447.7 414.4H452.5M447.7 471.5H452.5M502.7 412.7V470.8M500.3 412.7H505.1M500.3 470.8H505.1" stroke="#b0b0b0" stroke-width="1.0" fill="none"/>
<polyline points="406.8,461.8 421.3,472.2 450.1,444.9 502.7,430.7" stroke="#9a9a9a" stroke-width="1.4" fill="none"/>
<circle cx="406.8" cy="461.8" r="2.6" fill="#9c9c9c"/>
<circle cx="421.3" cy="472.2" r="2.6" fill="#9c9c9c"/>
<circle cx="450.1" cy="444.9" r="2.6" fill="#9c9c9c"/>
<circle cx="502.7" cy="430.7" r="2.6" fill="#9c9c9c"/>
<path d="M409.5 435.5V478.5M406.4 435.5H412.6M406.4 478.5H412.6M423.5 429.5V477.5M420.4 429.5H426.6M420.4 477.5H426.6M452.5 399.5V456.5M449.4 399.5H455.6M449.4 456.5H455.6M507.5 391.5V433.5M504.4 391.5H510.6M504.4 433.5H510.6" stroke="#000" stroke-width="1.1" fill="none"/>
<polyline points="409.2,458.4 423.1,461.1 452.5,418.9 507.2,416.8" stroke="#000" stroke-width="1.7" fill="none" stroke-linejoin="round"/>
<polygon points="409.2,455.33 406.2,460.63 412.2,460.63" fill="#000"/>
<polygon points="423.1,458.03 420.1,463.33 426.1,463.33" fill="#000"/>
<polygon points="452.5,415.83 449.5,421.13 455.5,421.13" fill="#000"/>
<polygon points="507.2,413.73 504.2,419.03 510.2,419.03" fill="#000"/>
<rect x="37.5" y="552.7" width="113.8" height="139.5" fill="none" stroke="#9d9d9d" stroke-width="1.1"/>
<line x1="37" y1="692.2" x2="151.8" y2="692.2" stroke="#808080" stroke-width="1.1"/>
<line x1="35.5" y1="552.7" x2="37.5" y2="552.7" stroke="#9d9d9d" stroke-width="0.8"/>
<text x="33.9" y="554.6" class="yl">1000</text>
<line x1="35.5" y1="622.45" x2="37.5" y2="622.45" stroke="#9d9d9d" stroke-width="0.8"/>
<text x="33.9" y="624.35" class="yl">100</text>
<line x1="35.5" y1="692.2" x2="37.5" y2="692.2" stroke="#9d9d9d" stroke-width="0.8"/>
<text x="33.9" y="694.1" class="yl">10</text>
<text x="37.5" y="702.6" class="xl">0</text>
<text x="65.95" y="702.6" class="xl">100</text>
<line x1="65.95" y1="691.2" x2="65.95" y2="693.2" stroke="#666" stroke-width="0.9"/>
<text x="94.4" y="702.6" class="xl">200</text>
<line x1="94.4" y1="691.2" x2="94.4" y2="693.2" stroke="#666" stroke-width="0.9"/>
<text x="122.85" y="702.6" class="xl">300</text>
<line x1="122.85" y1="691.2" x2="122.85" y2="693.2" stroke="#666" stroke-width="0.9"/>
<text x="151.3" y="702.6" class="xl">400</text>
<text transform="translate(13.3,674.02) rotate(-90) scale(0.9793,1)" class="tt" font-size="12.5">CD28<tspan dy="-6.5" font-size="8">+</tspan><tspan dy="6.5">&#160;CD8&#160;T&#160;cells</tspan></text>
<polygon points="46,541.04 47.51,544.12 51.39,544.4 48.45,546.58 49.33,549.83 46,548.11 42.67,549.83 43.55,546.58 40.61,544.4 44.49,544.12" fill="#000"/>
<polygon points="59.9,541.04 61.41,544.12 65.29,544.4 62.35,546.58 63.23,549.83 59.9,548.11 56.57,549.83 57.45,546.58 54.51,544.4 58.39,544.12" fill="#000"/>
<polygon points="140.2,541.04 141.71,544.12 145.59,544.4 142.65,546.58 143.53,549.83 140.2,548.11 136.87,549.83 137.75,546.58 134.81,544.4 138.69,544.12" fill="#000"/>
<line x1="43.3" y1="577.1" x2="143.6" y2="577.1" stroke="#000" stroke-width="2.5"/>
<line x1="43.3" y1="614.8" x2="143.6" y2="614.8" stroke="#000" stroke-width="2.5"/>
<line x1="43.3" y1="596.5" x2="143.6" y2="596.5" stroke="#acacac" stroke-width="1.0" stroke-dasharray="9,3.6"/>
<path d="M44.3 642.5V674.3M41.9 642.5H46.7M41.9 674.3H46.7M58.8 651.1V689.9M56.4 651.1H61.2M56.4 689.9H61.2M87.6 613.1V640.8M85.2 613.1H90M85.2 640.8H90M139.1 614.1V660.8M136.7 614.1H141.5M136.7 660.8H141.5" stroke="#b0b0b0" stroke-width="1.0" fill="none"/>
<polyline points="44.3,656.3 58.8,665 87.6,631.1 139.1,632.8" stroke="#9a9a9a" stroke-width="1.4" fill="none"/>
<circle cx="44.3" cy="656.3" r="2.6" fill="#9c9c9c"/>
<circle cx="58.8" cy="665" r="2.6" fill="#9c9c9c"/>
<circle cx="87.6" cy="631.1" r="2.6" fill="#9c9c9c"/>
<circle cx="139.1" cy="632.8" r="2.6" fill="#9c9c9c"/>
<path d="M47.5 621.5V650.5M44.4 621.5H50.6M44.4 650.5H50.6M61.5 620.5V648.5M58.4 620.5H64.6M58.4 648.5H64.6M89.5 602.5V622.5M86.4 602.5H92.6M86.4 622.5H92.6M143.5 601.5V631.5M140.4 601.5H146.6M140.4 631.5H146.6" stroke="#000" stroke-width="1.1" fill="none"/>
<polyline points="47.4,640.8 61.6,633.1 89.6,610.8 143,610.8" stroke="#000" stroke-width="1.7" fill="none" stroke-linejoin="round"/>
<polygon points="47.4,637.73 44.4,643.03 50.4,643.03" fill="#000"/>
<polygon points="61.6,630.03 58.6,635.33 64.6,635.33" fill="#000"/>
<polygon points="89.6,607.73 86.6,613.03 92.6,613.03" fill="#000"/>
<polygon points="143,607.73 140,613.03 146,613.03" fill="#000"/>
<rect x="219.5" y="553.2" width="113.2" height="139.5" fill="none" stroke="#9d9d9d" stroke-width="1.1"/>
<line x1="219" y1="692.7" x2="333.2" y2="692.7" stroke="#808080" stroke-width="1.1"/>
<line x1="217.5" y1="553.2" x2="219.5" y2="553.2" stroke="#9d9d9d" stroke-width="0.8"/>
<text x="215.9" y="555.1" class="yl">1000</text>
<line x1="217.5" y1="599.7" x2="219.5" y2="599.7" stroke="#9d9d9d" stroke-width="0.8"/>
<text x="215.9" y="601.6" class="yl">100</text>
<line x1="217.5" y1="646.2" x2="219.5" y2="646.2" stroke="#9d9d9d" stroke-width="0.8"/>
<text x="215.9" y="648.1" class="yl">10</text>
<line x1="217.5" y1="692.7" x2="219.5" y2="692.7" stroke="#9d9d9d" stroke-width="0.8"/>
<text x="215.9" y="694.6" class="yl">1</text>
<text x="219.5" y="703.1" class="xl">0</text>
<text x="247.8" y="703.1" class="xl">100</text>
<line x1="247.8" y1="691.7" x2="247.8" y2="693.7" stroke="#666" stroke-width="0.9"/>
<text x="276.1" y="703.1" class="xl">200</text>
<line x1="276.1" y1="691.7" x2="276.1" y2="693.7" stroke="#666" stroke-width="0.9"/>
<text x="304.4" y="703.1" class="xl">300</text>
<line x1="304.4" y1="691.7" x2="304.4" y2="693.7" stroke="#666" stroke-width="0.9"/>
<text x="332.7" y="703.1" class="xl">400</text>
<text transform="translate(195,674.6) rotate(-90) scale(0.9864,1)" class="tt" font-size="12.5">CD28<tspan dy="-6.5" font-size="10.4">-</tspan><tspan dy="6.5">&#160;CD8&#160;T&#160;cells</tspan></text>
<line x1="225.4" y1="581.2" x2="325.1" y2="581.2" stroke="#000" stroke-width="2.5"/>
<line x1="225.4" y1="634.2" x2="325.1" y2="634.2" stroke="#000" stroke-width="2.5"/>
<line x1="225.4" y1="609.6" x2="325.1" y2="609.6" stroke="#acacac" stroke-width="1.0" stroke-dasharray="9,3.6"/>
<path d="M226.1 623.5V662.6M223.7 623.5H228.5M223.7 662.6H228.5M241 595.8V659.8M238.6 595.8H243.4M238.6 659.8H243.4M268.6 583.7V610.3M266.2 583.7H271M266.2 610.3H271M320.6 581.2V621.7M318.2 581.2H323M318.2 621.7H323" stroke="#b0b0b0" stroke-width="1.0" fill="none"/>
<polyline points="226.1,639 241,625.9 268.6,602 320.6,595.1" stroke="#9a9a9a" stroke-width="1.4" fill="none"/>
<circle cx="226.1" cy="639" r="2.6" fill="#9c9c9c"/>
<circle cx="241" cy="625.9" r="2.6" fill="#9c9c9c"/>
<circle cx="268.6" cy="602" r="2.6" fill="#9c9c9c"/>
<circle cx="320.6" cy="595.1" r="2.6" fill="#9c9c9c"/>
<path d="M229.5 611.5V651.5M226.4 611.5H232.6M226.4 651.5H232.6M243.5 593.5V639.5M240.4 593.5H246.6M240.4 639.5H246.6M272.5 564.5V613.5M269.4 564.5H275.6M269.4 613.5H275.6M324.5 560.5V616.5M321.4 560.5H327.6M321.4 616.5H327.6" stroke="#000" stroke-width="1.1" fill="none"/>
<polyline points="229.5,632.8 243,620 272.1,572.2 324.4,583.7" stroke="#000" stroke-width="1.7" fill="none" stroke-linejoin="round"/>
<polygon points="229.5,629.73 226.5,635.03 232.5,635.03" fill="#000"/>
<polygon points="243,616.93 240,622.23 246,622.23" fill="#000"/>
<polygon points="272.1,569.13 269.1,574.43 275.1,574.43" fill="#000"/>
<polygon points="324.4,580.63 321.4,585.93 327.4,585.93" fill="#000"/>
<rect x="402.7" y="553.3" width="111.9" height="140.7" fill="none" stroke="#9d9d9d" stroke-width="1.1"/>
<line x1="402.2" y1="694" x2="515.1" y2="694" stroke="#808080" stroke-width="1.1"/>
<line x1="400.7" y1="553.3" x2="402.7" y2="553.3" stroke="#9d9d9d" stroke-width="0.8"/>
<text x="399.1" y="555.2" class="yl">100.0</text>
<line x1="400.7" y1="623.65" x2="402.7" y2="623.65" stroke="#9d9d9d" stroke-width="0.8"/>
<text x="399.1" y="625.55" class="yl">10.0</text>
<line x1="400.7" y1="694" x2="402.7" y2="694" stroke="#9d9d9d" stroke-width="0.8"/>
<text x="399.1" y="695.9" class="yl">1.0</text>
<text x="402.7" y="704.4" class="xl">0</text>
<text x="430.68" y="704.4" class="xl">100</text>
<line x1="430.68" y1="693" x2="430.68" y2="695" stroke="#666" stroke-width="0.9"/>
<text x="458.65" y="704.4" class="xl">200</text>
<line x1="458.65" y1="693" x2="458.65" y2="695" stroke="#666" stroke-width="0.9"/>
<text x="486.62" y="704.4" class="xl">300</text>
<line x1="486.62" y1="693" x2="486.62" y2="695" stroke="#666" stroke-width="0.9"/>
<text x="514.6" y="704.4" class="xl">400</text>
<text transform="translate(377.3,672.38) rotate(-90) scale(0.9880,1)" class="tt" font-size="12.5">CD4<tspan dy="-6.5" font-size="10.4">-</tspan><tspan dy="6.5">CD8</tspan><tspan dy="-6.5" font-size="10.4">-</tspan><tspan dy="6.5">&#160;T&#160;cells</tspan></text>
<polygon points="412.1,543.44 413.61,546.52 417.49,546.8 414.55,548.98 415.43,552.23 412.1,550.5 408.77,552.23 409.65,548.98 406.71,546.8 410.59,546.52" fill="#000"/>
<polygon points="426.5,543.44 428.01,546.52 431.89,546.8 428.95,548.98 429.83,552.23 426.5,550.5 423.17,552.23 424.05,548.98 421.11,546.8 424.99,546.52" fill="#000"/>
<polygon points="453.8,543.44 455.31,546.52 459.19,546.8 456.25,548.98 457.13,552.23 453.8,550.5 450.47,552.23 451.35,548.98 448.41,546.8 452.29,546.52" fill="#000"/>
<line x1="409.2" y1="570.5" x2="507.2" y2="570.5" stroke="#000" stroke-width="2.5"/>
<line x1="409.2" y1="628" x2="507.2" y2="628" stroke="#000" stroke-width="2.5"/>
<line x1="409.2" y1="599.9" x2="507.2" y2="599.9" stroke="#acacac" stroke-width="1.0" stroke-dasharray="9,3.6"/>
<path d="M410.3 653.9V694.1M407.9 653.9H412.7M407.9 694.1H412.7M423.8 642.5V694.1M421.4 642.5H426.2M421.4 694.1H426.2M451.8 600.3V656.3M449.4 600.3H454.2M449.4 656.3H454.2M502.7 592.3V647.7M500.3 592.3H505.1M500.3 647.7H505.1" stroke="#b0b0b0" stroke-width="1.0" fill="none"/>
<polyline points="410.3,673 423.8,660.8 451.8,636.3 502.7,621.7" stroke="#9a9a9a" stroke-width="1.4" fill="none"/>
<circle cx="410.3" cy="673" r="2.6" fill="#9c9c9c"/>
<circle cx="423.8" cy="660.8" r="2.6" fill="#9c9c9c"/>
<circle cx="451.8" cy="636.3" r="2.6" fill="#9c9c9c"/>
<circle cx="502.7" cy="621.7" r="2.6" fill="#9c9c9c"/>
<path d="M412.5 613.5V658.5M409.4 613.5H415.6M409.4 658.5H415.6M426.5 600.5V656.5M423.4 600.5H429.6M423.4 656.5H429.6M454.5 583.5V630.5M451.4 583.5H457.6M451.4 630.5H457.6M506.5 592.5V625.5M503.4 592.5H509.6M503.4 625.5H509.6" stroke="#000" stroke-width="1.1" fill="none"/>
<polyline points="412.7,637.3 426.5,632.8 454.9,613.1 506.1,604.4" stroke="#000" stroke-width="1.7" fill="none" stroke-linejoin="round"/>
<polygon points="412.7,634.23 409.7,639.53 415.7,639.53" fill="#000"/>
<polygon points="426.5,629.73 423.5,635.03 429.5,635.03" fill="#000"/>
<polygon points="454.9,610.03 451.9,615.33 457.9,615.33" fill="#000"/>
<polygon points="506.1,601.33 503.1,606.63 509.1,606.63" fill="#000"/>
<rect x="41.3" y="733.6" width="110.9" height="140.4" fill="none" stroke="#9d9d9d" stroke-width="1.1"/>
<line x1="40.8" y1="874" x2="152.7" y2="874" stroke="#808080" stroke-width="1.1"/>
<line x1="39.3" y1="733.6" x2="41.3" y2="733.6" stroke="#9d9d9d" stroke-width="0.8"/>
<text x="37.7" y="735.5" class="yl">1000.0</text>
<line x1="39.3" y1="768.7" x2="41.3" y2="768.7" stroke="#9d9d9d" stroke-width="0.8"/>
<text x="37.7" y="770.6" class="yl">100.0</text>
<line x1="39.3" y1="803.8" x2="41.3" y2="803.8" stroke="#9d9d9d" stroke-width="0.8"/>
<text x="37.7" y="805.7" class="yl">10.0</text>
<line x1="39.3" y1="838.9" x2="41.3" y2="838.9" stroke="#9d9d9d" stroke-width="0.8"/>
<text x="37.7" y="840.8" class="yl">1.0</text>
<line x1="39.3" y1="874" x2="41.3" y2="874" stroke="#9d9d9d" stroke-width="0.8"/>
<text x="37.7" y="875.9" class="yl">0.1</text>
<text x="41.3" y="884.4" class="xl">0</text>
<text x="69.02" y="884.4" class="xl">100</text>
<line x1="69.02" y1="873" x2="69.02" y2="875" stroke="#666" stroke-width="0.9"/>
<text x="96.75" y="884.4" class="xl">200</text>
<line x1="96.75" y1="873" x2="96.75" y2="875" stroke="#666" stroke-width="0.9"/>
<text x="124.47" y="884.4" class="xl">300</text>
<line x1="124.47" y1="873" x2="124.47" y2="875" stroke="#666" stroke-width="0.9"/>
<text x="152.2" y="884.4" class="xl">400</text>
<text transform="translate(12.2,840.26) rotate(-90) scale(0.9815,1)" class="tt" font-size="12.5">B&#160;cells&#160;(total)</text>
<polygon points="47.6,723.44 49.11,726.52 52.99,726.8 50.05,728.98 50.93,732.23 47.6,730.5 44.27,732.23 45.15,728.98 42.21,726.8 46.09,726.52" fill="#000"/>
<polygon points="62,723.44 63.51,726.52 67.39,726.8 64.45,728.98 65.33,732.23 62,730.5 58.67,732.23 59.55,728.98 56.61,726.8 60.49,726.52" fill="#000"/>
<line x1="46.7" y1="745" x2="147.1" y2="745" stroke="#000" stroke-width="2.5"/>
<line x1="46.7" y1="765.4" x2="147.1" y2="765.4" stroke="#000" stroke-width="2.5"/>
<line x1="46.7" y1="754.3" x2="147.1" y2="754.3" stroke="#acacac" stroke-width="1.0" stroke-dasharray="9,3.6"/>
<path d="M47.4 823.5V876.8M45 823.5H49.8M45 876.8H49.8M61.3 806.2V845M58.9 806.2H63.7M58.9 845H63.7M89 758.5V796.5M86.6 758.5H91.4M86.6 796.5H91.4M140.2 745.7V788.6M137.8 745.7H142.6M137.8 788.6H142.6" stroke="#b0b0b0" stroke-width="1.0" fill="none"/>
<polyline points="47.4,842.2 61.3,819 89,779.2 140.2,758.5" stroke="#9a9a9a" stroke-width="1.4" fill="none"/>
<circle cx="47.4" cy="842.2" r="2.6" fill="#9c9c9c"/>
<circle cx="61.3" cy="819" r="2.6" fill="#9c9c9c"/>
<circle cx="89" cy="779.2" r="2.6" fill="#9c9c9c"/>
<circle cx="140.2" cy="758.5" r="2.6" fill="#9c9c9c"/>
<path d="M50.5 799.5V828.5M47.4 799.5H53.6M47.4 828.5H53.6M64.5 786.5V819.5M61.4 786.5H67.6M61.4 819.5H67.6M92.5 764.5V791.5M89.4 764.5H95.6M89.4 791.5H95.6M143.5 744.5V768.5M140.4 744.5H146.6M140.4 768.5H146.6" stroke="#000" stroke-width="1.1" fill="none"/>
<polyline points="50.9,813.8 64.4,804.2 92.4,775.1 143.6,755" stroke="#000" stroke-width="1.7" fill="none" stroke-linejoin="round"/>
<polygon points="50.9,810.73 47.9,816.03 53.9,816.03" fill="#000"/>
<polygon points="64.4,801.13 61.4,806.43 67.4,806.43" fill="#000"/>
<polygon points="92.4,772.03 89.4,777.33 95.4,777.33" fill="#000"/>
<polygon points="143.6,751.93 140.6,757.23 146.6,757.23" fill="#000"/>
<rect x="225.2" y="733.8" width="109.1" height="140.2" fill="none" stroke="#9d9d9d" stroke-width="1.1"/>
<line x1="224.7" y1="874" x2="334.8" y2="874" stroke="#808080" stroke-width="1.1"/>
<line x1="223.2" y1="733.8" x2="225.2" y2="733.8" stroke="#9d9d9d" stroke-width="0.8"/>
<text x="221.6" y="735.7" class="yl">1000.0</text>
<line x1="223.2" y1="768.85" x2="225.2" y2="768.85" stroke="#9d9d9d" stroke-width="0.8"/>
<text x="221.6" y="770.75" class="yl">100.0</text>
<line x1="223.2" y1="803.9" x2="225.2" y2="803.9" stroke="#9d9d9d" stroke-width="0.8"/>
<text x="221.6" y="805.8" class="yl">10.0</text>
<line x1="223.2" y1="838.95" x2="225.2" y2="838.95" stroke="#9d9d9d" stroke-width="0.8"/>
<text x="221.6" y="840.85" class="yl">1.0</text>
<line x1="223.2" y1="874" x2="225.2" y2="874" stroke="#9d9d9d" stroke-width="0.8"/>
<text x="221.6" y="875.9" class="yl">0.1</text>
<text x="225.2" y="884.4" class="xl">0</text>
<text x="252.47" y="884.4" class="xl">100</text>
<line x1="252.47" y1="873" x2="252.47" y2="875" stroke="#666" stroke-width="0.9"/>
<text x="279.75" y="884.4" class="xl">200</text>
<line x1="279.75" y1="873" x2="279.75" y2="875" stroke="#666" stroke-width="0.9"/>
<text x="307.02" y="884.4" class="xl">300</text>
<line x1="307.02" y1="873" x2="307.02" y2="875" stroke="#666" stroke-width="0.9"/>
<text x="334.3" y="884.4" class="xl">400</text>
<text transform="translate(195.7,837.36) rotate(-90) scale(0.9969,1)" class="tt" font-size="12.5">IgD<tspan dy="-6.5" font-size="8">+</tspan><tspan dy="6.5">&#160;B&#160;cells</tspan></text>
<polygon points="234.8,724.04 236.31,727.12 240.19,727.4 237.25,729.58 238.13,732.83 234.8,731.11 231.47,732.83 232.35,729.58 229.41,727.4 233.29,727.12" fill="#000"/>
<polygon points="249.6,724.04 251.11,727.12 254.99,727.4 252.05,729.58 252.93,732.83 249.6,731.11 246.27,732.83 247.15,729.58 244.21,727.4 248.09,727.12" fill="#000"/>
<line x1="231.6" y1="748.4" x2="327.3" y2="748.4" stroke="#000" stroke-width="2.5"/>
<line x1="231.6" y1="770.5" x2="327.3" y2="770.5" stroke="#000" stroke-width="2.5"/>
<line x1="231.6" y1="758.5" x2="327.3" y2="758.5" stroke="#acacac" stroke-width="1.0" stroke-dasharray="9,3.6"/>
<path d="M231.6 831.1V876.8M229.2 831.1H234M229.2 876.8H234M245.5 806.9V858.1M243.1 806.9H247.9M243.1 858.1H247.9M272.8 759.5V796.5M270.4 759.5H275.2M270.4 796.5H275.2M323.3 746.3V788.9M320.9 746.3H325.7M320.9 788.9H325.7" stroke="#b0b0b0" stroke-width="1.0" fill="none"/>
<polyline points="231.6,856.4 245.5,830.5 272.8,781 323.3,761.2" stroke="#9a9a9a" stroke-width="1.4" fill="none"/>
<circle cx="231.6" cy="856.4" r="2.6" fill="#9c9c9c"/>
<circle cx="245.5" cy="830.5" r="2.6" fill="#9c9c9c"/>
<circle cx="272.8" cy="781" r="2.6" fill="#9c9c9c"/>
<circle cx="323.3" cy="761.2" r="2.6" fill="#9c9c9c"/>
<path d="M234.5 803.5V839.5M231.4 803.5H237.6M231.4 839.5H237.6M247.5 790.5V826.5M244.4 790.5H250.6M244.4 826.5H250.6M275.5 768.5V793.5M272.4 768.5H278.6M272.4 793.5H278.6M326.5 746.5V772.5M323.4 746.5H329.6M323.4 772.5H329.6" stroke="#000" stroke-width="1.1" fill="none"/>
<polyline points="234,816.6 247.9,809.3 275.6,776.8 326.5,756" stroke="#000" stroke-width="1.7" fill="none" stroke-linejoin="round"/>
<polygon points="234,813.53 231,818.83 237,818.83" fill="#000"/>
<polygon points="247.9,806.23 244.9,811.53 250.9,811.53" fill="#000"/>
<polygon points="275.6,773.73 272.6,779.03 278.6,779.03" fill="#000"/>
<polygon points="326.5,752.93 323.5,758.23 329.5,758.23" fill="#000"/>
<rect x="404.5" y="733.8" width="110.2" height="140.2" fill="none" stroke="#9d9d9d" stroke-width="1.1"/>
<line x1="404" y1="874" x2="515.2" y2="874" stroke="#808080" stroke-width="1.1"/>
<line x1="402.5" y1="733.8" x2="404.5" y2="733.8" stroke="#9d9d9d" stroke-width="0.8"/>
<text x="400.9" y="735.7" class="yl">100.0</text>
<line x1="402.5" y1="780.53" x2="404.5" y2="780.53" stroke="#9d9d9d" stroke-width="0.8"/>
<text x="400.9" y="782.43" class="yl">10.0</text>
<line x1="402.5" y1="827.27" x2="404.5" y2="827.27" stroke="#9d9d9d" stroke-width="0.8"/>
<text x="400.9" y="829.17" class="yl">1.0</text>
<line x1="402.5" y1="874" x2="404.5" y2="874" stroke="#9d9d9d" stroke-width="0.8"/>
<text x="400.9" y="875.9" class="yl">0.1</text>
<text x="404.5" y="884.4" class="xl">0</text>
<text x="432.05" y="884.4" class="xl">100</text>
<line x1="432.05" y1="873" x2="432.05" y2="875" stroke="#666" stroke-width="0.9"/>
<text x="459.6" y="884.4" class="xl">200</text>
<line x1="459.6" y1="873" x2="459.6" y2="875" stroke="#666" stroke-width="0.9"/>
<text x="487.15" y="884.4" class="xl">300</text>
<line x1="487.15" y1="873" x2="487.15" y2="875" stroke="#666" stroke-width="0.9"/>
<text x="514.7" y="884.4" class="xl">400</text>
<text transform="translate(377.7,836.91) rotate(-90) scale(0.9806,1)" class="tt" font-size="12.5">IgD<tspan dy="-6.5" font-size="10.4">-</tspan><tspan dy="6.5">&#160;B&#160;cells</tspan></text>
<polygon points="412.5,724.04 414.01,727.12 417.89,727.4 414.95,729.58 415.83,732.83 412.5,731.11 409.17,732.83 410.05,729.58 407.11,727.4 410.99,727.12" fill="#000"/>
<line x1="410.3" y1="737.3" x2="507.9" y2="737.3" stroke="#000" stroke-width="2.5"/>
<line x1="410.3" y1="774.6" x2="507.9" y2="774.6" stroke="#000" stroke-width="2.5"/>
<line x1="410.3" y1="755" x2="507.9" y2="755" stroke="#acacac" stroke-width="1.0" stroke-dasharray="9,3.6"/>
<path d="M411 827.7V876.8M408.6 827.7H413.4M408.6 876.8H413.4M424.1 818V861.3M421.7 818H426.5M421.7 861.3H426.5M452.5 782V820.8M450.1 782H454.9M450.1 820.8H454.9M503.7 756.7V810.4M501.3 756.7H506.1M501.3 810.4H506.1" stroke="#b0b0b0" stroke-width="1.0" fill="none"/>
<polyline points="411,856.1 424.1,833.9 452.5,800 503.7,774.7" stroke="#9a9a9a" stroke-width="1.4" fill="none"/>
<circle cx="411" cy="856.1" r="2.6" fill="#9c9c9c"/>
<circle cx="424.1" cy="833.9" r="2.6" fill="#9c9c9c"/>
<circle cx="452.5" cy="800" r="2.6" fill="#9c9c9c"/>
<circle cx="503.7" cy="774.7" r="2.6" fill="#9c9c9c"/>
<path d="M413.5 804.5V864.5M410.4 804.5H416.6M410.4 864.5H416.6M427.5 794.5V850.5M424.4 794.5H430.6M424.4 850.5H430.6M455.5 777.5V824.5M452.4 777.5H458.6M452.4 824.5H458.6M506.5 761.5V787.5M503.4 761.5H509.6M503.4 787.5H509.6" stroke="#000" stroke-width="1.1" fill="none"/>
<polyline points="413.4,830.1 427.6,828.4 455.3,804.2 506.8,773" stroke="#000" stroke-width="1.7" fill="none" stroke-linejoin="round"/>
<polygon points="413.4,827.03 410.4,832.33 416.4,832.33" fill="#000"/>
<polygon points="427.6,825.33 424.6,830.63 430.6,830.63" fill="#000"/>
<polygon points="455.3,801.13 452.3,806.43 458.3,806.43" fill="#000"/>
<polygon points="506.8,769.93 503.8,775.23 509.8,775.23" fill="#000"/>
<rect x="124.5" y="919.8" width="115.7" height="140.7" fill="none" stroke="#9d9d9d" stroke-width="1.1"/>
<line x1="124" y1="1060.5" x2="240.7" y2="1060.5" stroke="#808080" stroke-width="1.1"/>
<line x1="122.5" y1="919.8" x2="124.5" y2="919.8" stroke="#9d9d9d" stroke-width="0.8"/>
<text x="120.9" y="921.7" class="yl">1000</text>
<line x1="122.5" y1="990.15" x2="124.5" y2="990.15" stroke="#9d9d9d" stroke-width="0.8"/>
<text x="120.9" y="992.05" class="yl">100</text>
<line x1="122.5" y1="1060.5" x2="124.5" y2="1060.5" stroke="#9d9d9d" stroke-width="0.8"/>
<text x="120.9" y="1062.4" class="yl">10</text>
<text x="124.5" y="1070.9" class="xl">0</text>
<text x="153.43" y="1070.9" class="xl">100</text>
<line x1="153.43" y1="1059.5" x2="153.43" y2="1061.5" stroke="#666" stroke-width="0.9"/>
<text x="182.35" y="1070.9" class="xl">200</text>
<line x1="182.35" y1="1059.5" x2="182.35" y2="1061.5" stroke="#666" stroke-width="0.9"/>
<text x="211.27" y="1070.9" class="xl">300</text>
<line x1="211.27" y1="1059.5" x2="211.27" y2="1061.5" stroke="#666" stroke-width="0.9"/>
<text x="240.2" y="1070.9" class="xl">400</text>
<text transform="translate(100.1,1013.9) rotate(-90) scale(0.9738,1)" class="tt" font-size="12.5">NK&#160;cells</text>
<polygon points="134,909.64 135.51,912.72 139.39,913 136.45,915.18 137.33,918.43 134,916.71 130.67,918.43 131.55,915.18 128.61,913 132.49,912.72" fill="#000"/>
<line x1="131.2" y1="950" x2="233.3" y2="950" stroke="#000" stroke-width="2.5"/>
<line x1="131.2" y1="988.3" x2="233.3" y2="988.3" stroke="#000" stroke-width="2.5"/>
<line x1="131.2" y1="969.4" x2="233.3" y2="969.4" stroke="#acacac" stroke-width="1.0" stroke-dasharray="9,3.6"/>
<path d="M131.8 960V997.1M129.4 960H134.2M129.4 997.1H134.2M146.7 969.4V1008.5M144.3 969.4H149.1M144.3 1008.5H149.1M176.2 967.7V987.8M173.8 967.7H178.6M173.8 987.8H178.6M229.1 959V987.8M226.7 959H231.5M226.7 987.8H231.5" stroke="#b0b0b0" stroke-width="1.0" fill="none"/>
<polyline points="131.8,981.5 146.7,986 176.2,977 229.1,968.7" stroke="#9a9a9a" stroke-width="1.4" fill="none"/>
<circle cx="131.8" cy="981.5" r="2.6" fill="#9c9c9c"/>
<circle cx="146.7" cy="986" r="2.6" fill="#9c9c9c"/>
<circle cx="176.2" cy="977" r="2.6" fill="#9c9c9c"/>
<circle cx="229.1" cy="968.7" r="2.6" fill="#9c9c9c"/>
<path d="M133.5 950.5V986.5M130.4 950.5H136.6M130.4 986.5H136.6M149.5 962.5V987.5M146.4 962.5H152.6M146.4 987.5H152.6M178.5 959.5V993.5M175.4 959.5H181.6M175.4 993.5H181.6M232.5 955.5V981.5M229.4 955.5H235.6M229.4 981.5H235.6" stroke="#000" stroke-width="1.1" fill="none"/>
<polyline points="133.9,962.5 149.5,975.7 178.9,977 232.6,971.2" stroke="#000" stroke-width="1.7" fill="none" stroke-linejoin="round"/>
<polygon points="133.9,959.43 130.9,964.73 136.9,964.73" fill="#000"/>
<polygon points="149.5,972.63 146.5,977.93 152.5,977.93" fill="#000"/>
<polygon points="178.9,973.93 175.9,979.23 181.9,979.23" fill="#000"/>
<polygon points="232.6,968.13 229.6,973.43 235.6,973.43" fill="#000"/>
<rect x="298.4" y="920" width="129.4" height="141" fill="none" stroke="#9d9d9d" stroke-width="1.1"/>
<line x1="297.9" y1="1061" x2="428.3" y2="1061" stroke="#808080" stroke-width="1.1"/>
<line x1="296.4" y1="920" x2="298.4" y2="920" stroke="#9d9d9d" stroke-width="0.8"/>
<text x="294.8" y="921.9" class="yl">1000</text>
<line x1="296.4" y1="1061" x2="298.4" y2="1061" stroke="#9d9d9d" stroke-width="0.8"/>
<text x="294.8" y="1062.9" class="yl">100</text>
<text x="298.4" y="1071.4" class="xl">0</text>
<text x="330.75" y="1071.4" class="xl">100</text>
<line x1="330.75" y1="1060" x2="330.75" y2="1062" stroke="#666" stroke-width="0.9"/>
<text x="363.1" y="1071.4" class="xl">200</text>
<line x1="363.1" y1="1060" x2="363.1" y2="1062" stroke="#666" stroke-width="0.9"/>
<text x="395.45" y="1071.4" class="xl">300</text>
<line x1="395.45" y1="1060" x2="395.45" y2="1062" stroke="#666" stroke-width="0.9"/>
<text x="427.8" y="1071.4" class="xl">400</text>
<text transform="translate(274.3,1022.91) rotate(-90) scale(0.9913,1)" class="tt" font-size="12.5">Monocytes</text>
<line x1="306" y1="944.5" x2="417.5" y2="944.5" stroke="#000" stroke-width="2.5"/>
<line x1="306" y1="1012.7" x2="417.5" y2="1012.7" stroke="#000" stroke-width="2.5"/>
<line x1="306" y1="978.1" x2="417.5" y2="978.1" stroke="#acacac" stroke-width="1.0" stroke-dasharray="9,3.6"/>
<path d="M306.7 915.8V984M304.3 915.8H309.1M304.3 984H309.1M322.3 978.1V1039.7M319.9 978.1H324.7M319.9 1039.7H324.7M354.2 968.7V1009.9M351.8 968.7H356.6M351.8 1009.9H356.6M414 967.7V1007.5M411.6 967.7H416.4M411.6 1007.5H416.4" stroke="#b0b0b0" stroke-width="1.0" fill="none"/>
<polyline points="306.7,952.1 322.3,1008.2 354.2,987.8 414,989.2" stroke="#9a9a9a" stroke-width="1.4" fill="none"/>
<circle cx="306.7" cy="952.1" r="2.6" fill="#9c9c9c"/>
<circle cx="322.3" cy="1008.2" r="2.6" fill="#9c9c9c"/>
<circle cx="354.2" cy="987.8" r="2.6" fill="#9c9c9c"/>
<circle cx="414" cy="989.2" r="2.6" fill="#9c9c9c"/>
<path d="M309.5 915.5V980.5M306.4 915.5H312.6M306.4 980.5H312.6M325.5 970.5V1004.5M322.4 970.5H328.6M322.4 1004.5H328.6M358.5 961.5V989.5M355.4 961.5H361.6M355.4 989.5H361.6M417.5 955.5V1003.5M414.4 955.5H420.6M414.4 1003.5H420.6" stroke="#000" stroke-width="1.1" fill="none"/>
<polyline points="309.5,958.3 325.8,983.3 358.3,974.4 417.5,969.4" stroke="#000" stroke-width="1.7" fill="none" stroke-linejoin="round"/>
<polygon points="309.5,955.23 306.5,960.53 312.5,960.53" fill="#000"/>
<polygon points="325.8,980.23 322.8,985.53 328.8,985.53" fill="#000"/>
<polygon points="358.3,971.33 355.3,976.63 361.3,976.63" fill="#000"/>
<polygon points="417.5,966.33 414.5,971.63 420.5,971.63" fill="#000"/>
</svg>
</body></html>
